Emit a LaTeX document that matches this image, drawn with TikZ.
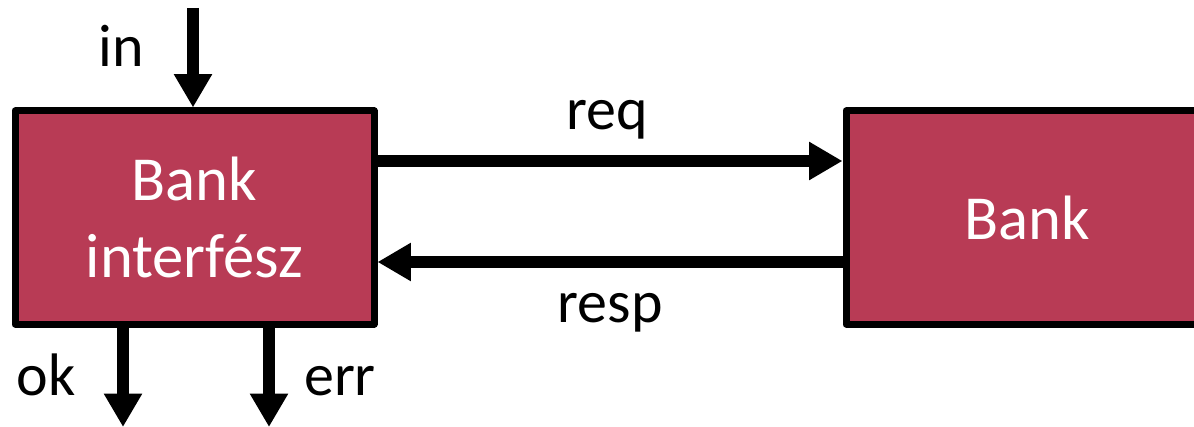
\documentclass[tikz,border=0pt]{standalone}
\usepackage{fontspec}
\setmainfont{Carlito}
\usetikzlibrary{arrows.meta,shadows}
\definecolor{bankred}{HTML}{B83B55}
\tikzset{
  block/.style={draw=black, line width=5.25pt, line join=round, fill=bankred,
    text=white, align=center, inner sep=0pt,
    minimum width=269.25pt, minimum height=159.75pt,
    font=\fontsize{47}{58}\selectfont,
    drop shadow={opacity=0.25, shadow xshift=2pt, shadow yshift=-2pt}},
  sig/.style={line width=8.5pt, -{Triangle[length=25pt,width=27pt]}},
  lbl/.style={anchor=base, inner sep=0pt, font=\fontsize{45}{54}\selectfont}
}
\begin{document}
\begin{tikzpicture}[x=0.75pt, y=-0.75pt]
  \clip (0,0) rectangle (1194,427);
  % the two blocks
  \node[block] (iface) at (194.5,217.5) {Bank\\interfész};
  \node[block, minimum width=271.5pt] (bank) at (1027,217.5) {Bank};

  % free ends of the outer signals
  \coordinate (inTop) at (193,8);
  \coordinate (okEnd) at (123,427);
  \coordinate (errEnd) at (269,427);

  \draw[sig] (inTop) -- (inTop |- iface.north);
  \draw[sig] (okEnd |- iface.south) -- (okEnd);
  \draw[sig] (errEnd |- iface.south) -- (errEnd);

  % request / response
  \draw[sig] (iface.east |- 0,161) -- (bank.west |- 0,161);
  \draw[sig] (bank.west |- 0,262) -- (iface.east |- 0,262);

  % labels
  \node[lbl] (inL) at (121,67) {in};
  \node[lbl] (okL) at (46,395) {ok};
  \node[lbl] (errL) at (340,395) {err};
  \node[lbl] (reqL) at (607,130) {req};
  \node[lbl] (respL) at (610,322) {resp};
\end{tikzpicture}
\end{document}
